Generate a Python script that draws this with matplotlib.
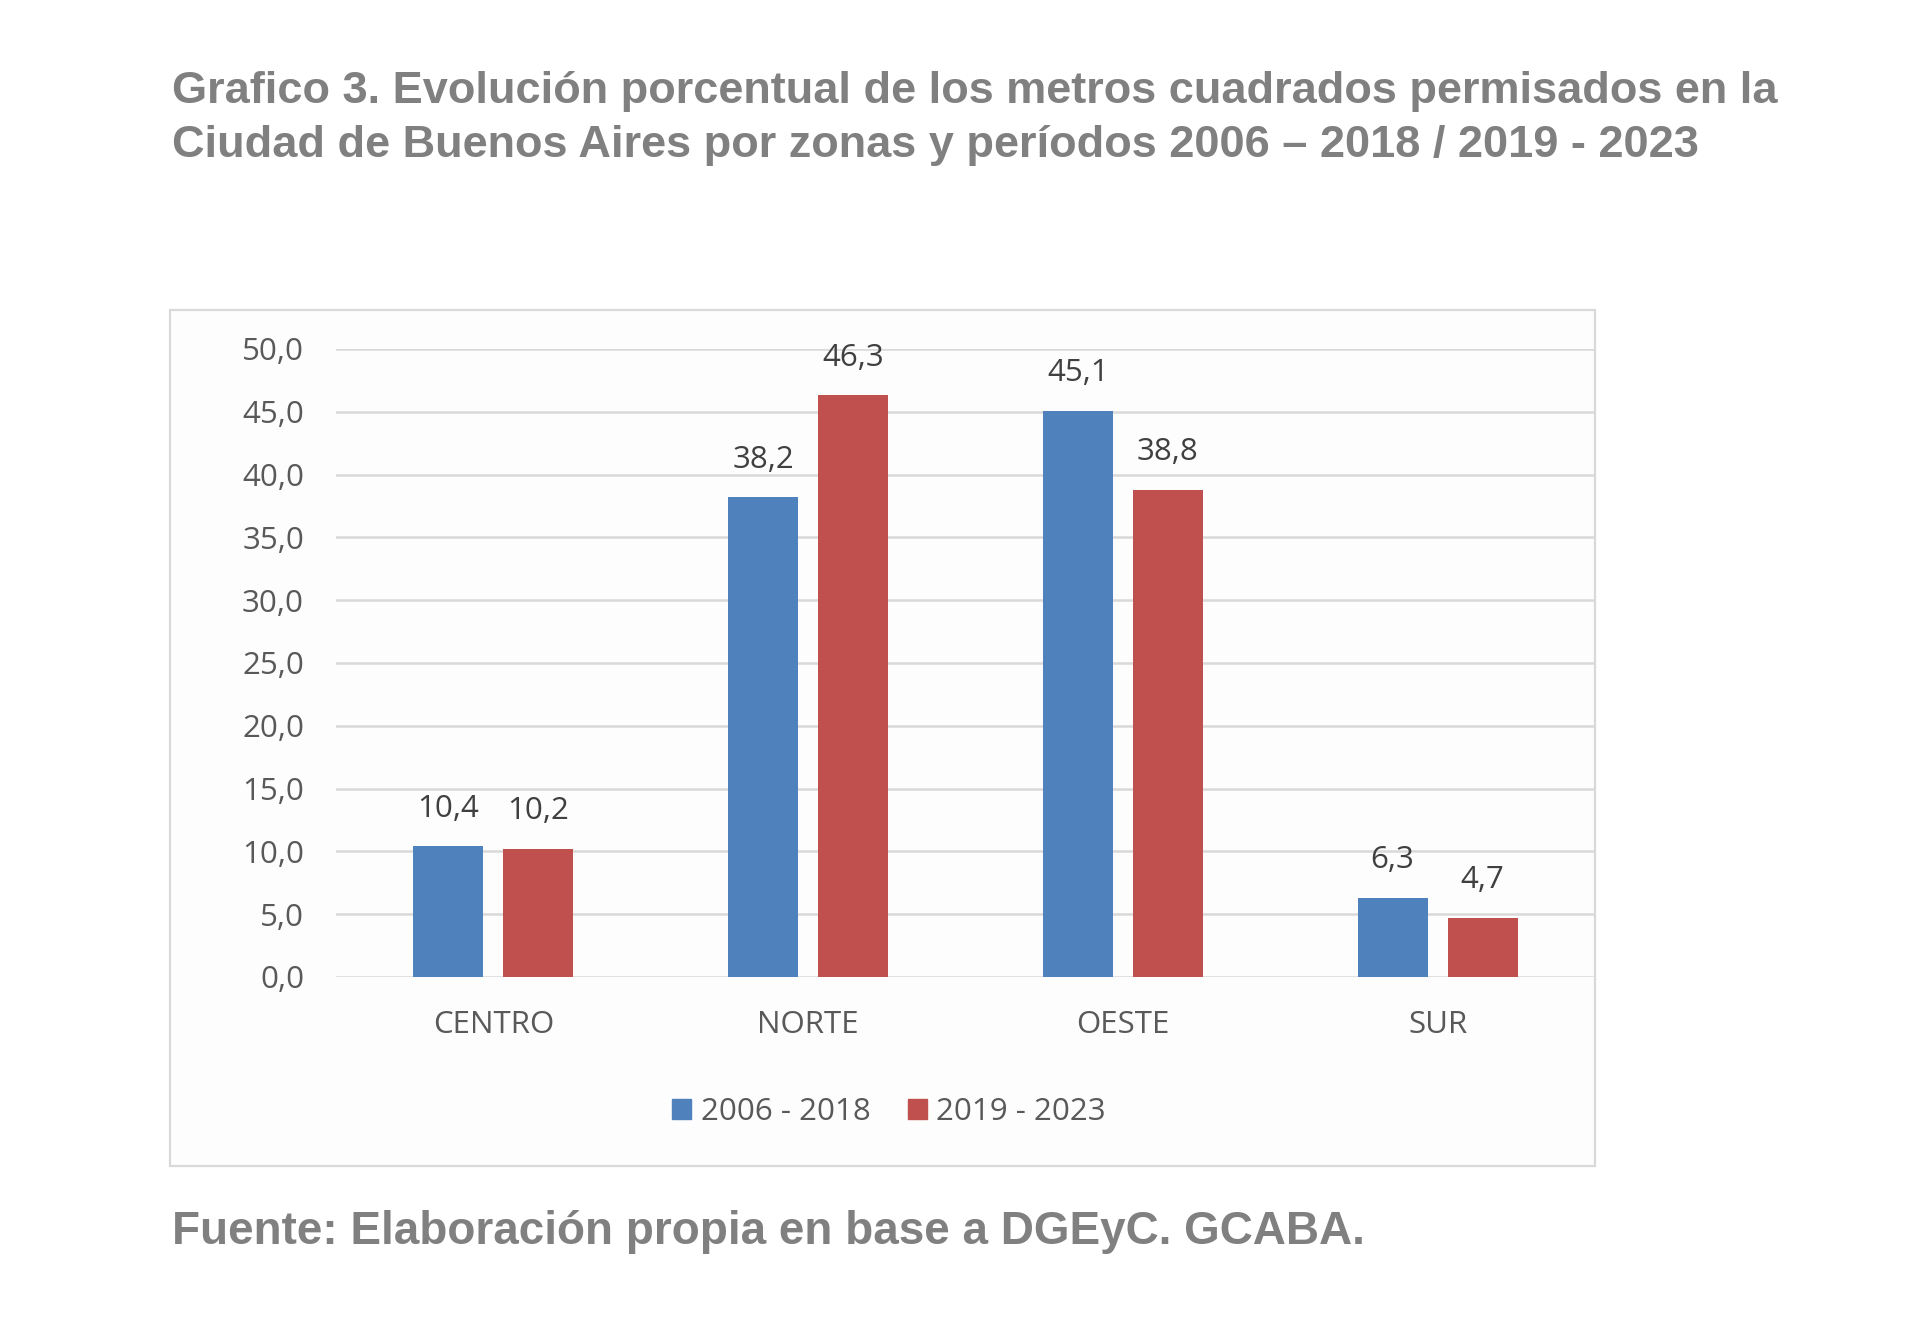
import matplotlib
matplotlib.use("Agg")
import matplotlib.pyplot as plt
from matplotlib.patches import Rectangle, Patch
import numpy as np

categories = ["CENTRO", "NORTE", "OESTE", "SUR"]
series_names = ["2006 - 2018", "2019 - 2023"]
values_2006_2018 = [10.4, 38.2, 45.1, 6.3]
values_2019_2023 = [10.2, 46.3, 38.8, 4.7]
yticks = [0, 5, 10, 15, 20, 25, 30, 35, 40, 45, 50]
ytick_labels = ["0,0", "5,0", "10,0", "15,0", "20,0", "25,0", "30,0", "35,0", "40,0", "45,0", "50,0"]

title_lines = ["Grafico 3. Evolución porcentual de los metros cuadrados permisados en la",
               "Ciudad de Buenos Aires por zonas y períodos 2006 – 2018 / 2019 - 2023"]
footer = "Fuente: Elaboración propia en base a DGEyC. GCABA."

BLUE = "#4F81BD"
RED = "#C0504D"
TXT = "#595959"
LBL = "#404040"
GRAY_TITLE = "#808080"
GRID = "#D9D9D9"

W, H = 1920, 1318
fig = plt.figure(figsize=(W / 100, H / 100), dpi=100)
fig.patch.set_facecolor("white")

def fx(px):
    return px / W

def fy(py):
    return 1 - py / H

# chart frame
frame = Rectangle((fx(170), fy(1166)), fx(1595) - fx(170), fy(310) - fy(1166),
                  transform=fig.transFigure, facecolor="#FDFDFD", edgecolor=GRID,
                  linewidth=1.6, zorder=-10)
fig.patches.append(frame)

ax = fig.add_axes([fx(336), fy(977), fx(1595) - fx(336), fy(349) - fy(977)])
ax.set_zorder(2)
ax.set_facecolor("none")

x = np.arange(len(categories))
bw = 0.222
off = 0.143
b1 = ax.bar(x - off, values_2006_2018, bw, color=BLUE, zorder=3, label=series_names[0])
b2 = ax.bar(x + off, values_2019_2023, bw, color=RED, zorder=3, label=series_names[1])

ax.set_xlim(-0.5, len(categories) - 0.5)
ax.set_ylim(0, 50)
ax.set_yticks(yticks)
ax.set_yticklabels(ytick_labels)
ax.set_xticks(x)
ax.set_xticklabels(categories)
ax.grid(axis="y", color=GRID, linewidth=1.8, zorder=0)
ax.set_axisbelow(True)
for s in ax.spines.values():
    s.set_visible(False)
ax.tick_params(axis="both", length=0, labelsize=22.5, labelcolor=TXT)
ax.tick_params(axis="y", pad=23)
ax.tick_params(axis="x", pad=24)
for lab in ax.get_xticklabels() + ax.get_yticklabels():
    lab.set_fontfamily("Open Sans")

for bars, vals in ((b1, values_2006_2018), (b2, values_2019_2023)):
    for r, v in zip(bars, vals):
        ax.annotate(f"{v:.1f}".replace(".", ","), (r.get_x() + r.get_width() / 2, v),
                    xytext=(0, 27), textcoords="offset points", ha="center", va="center",
                    fontsize=22.5, color=LBL, family="Open Sans")

handles = [Patch(facecolor=BLUE, edgecolor=BLUE), Patch(facecolor=RED, edgecolor=RED)]
leg = fig.legend(handles, series_names, loc="center", bbox_to_anchor=(fx(889), fy(1112)),
                 ncol=2, frameon=False, handlelength=0.6, handleheight=0.6,
                 handletextpad=0.3, columnspacing=1.2,
                 prop={"family": "Open Sans", "size": 22.5})
for t in leg.get_texts():
    t.set_color(TXT)

fig.text(fx(172), fy(92), title_lines[0], ha="left", va="center", fontsize=32.5,
         fontweight="bold", color=GRAY_TITLE, family="Liberation Sans")
fig.text(fx(172), fy(145), title_lines[1], ha="left", va="center", fontsize=32.5,
         fontweight="bold", color=GRAY_TITLE, family="Liberation Sans")
fig.text(fx(172), fy(1232), footer, ha="left", va="center", fontsize=33,
         fontweight="bold", color=GRAY_TITLE, family="Liberation Sans")

fig.savefig("out.png", dpi=100, facecolor="white")
